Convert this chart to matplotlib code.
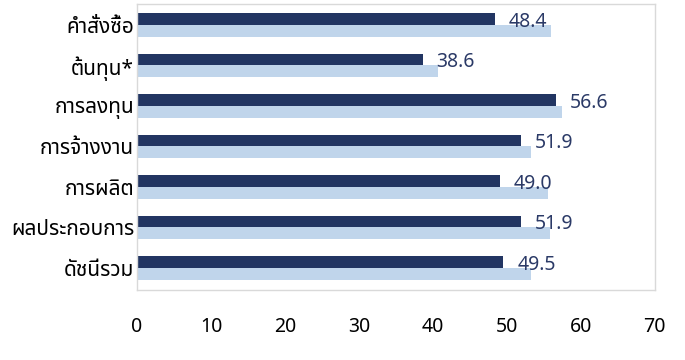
import matplotlib
matplotlib.use('Agg')
import matplotlib.pyplot as plt
import numpy as np

plt.rcParams['font.family'] = ['Noto Sans Thai', 'DejaVu Sans']

categories = ['คำสั่งซื้อ', 'ต้นทุน*', 'การลงทุน', 'การจ้างงาน', 'การผลิต', 'ผลประกอบการ', 'ดัชนีรวม']
current = [48.4, 38.6, 56.6, 51.9, 49.0, 51.9, 49.5]
previous = [56.0, 40.7, 57.5, 53.2, 55.6, 55.8, 53.2]
series_names = ['ผลจริง', 'ดัชนีคาดการณ์']
xticks = [0, 10, 20, 30, 40, 50, 60, 70]

dark = '#223562'
light = '#C0D5EB'

fig = plt.figure(figsize=(6.85, 3.6), dpi=100)
ax = fig.add_axes([0.2, 0.194, 0.756, 0.795])

pos = np.arange(len(categories))
h = 0.29
# dark bar above the group centre, light bar below it (y axis is inverted)
ax.barh(pos - h, current, height=h, align='edge', color=dark, label=series_names[0], zorder=2)
ax.barh(pos, previous, height=h, align='edge', color=light, label=series_names[1], zorder=1)

for i, v in enumerate(current):
    ax.text(v + 1.9, pos[i] - 0.08, '%.1f' % v, va='center', ha='left',
            fontsize=14, color='#2B3A67', zorder=3)

ax.set_xlim(0, 70)
ax.set_ylim(len(categories) - 0.45, -0.52)
ax.set_yticks(pos)
ax.set_yticklabels(categories, fontsize=15)
ax.set_xticks(xticks)
ax.set_xticklabels([str(t) for t in xticks], fontsize=14)
ax.tick_params(axis='x', length=0, pad=19)
ax.tick_params(axis='y', length=0, pad=2)
for s in ax.spines.values():
    s.set_color('#D9D9D9')
    s.set_linewidth(1)

fig.legend(loc='upper left', bbox_to_anchor=(0.355, 0.022), ncol=2, frameon=False,
           fontsize=13, handlelength=1.0, columnspacing=1.5)

fig.savefig('out.png')
